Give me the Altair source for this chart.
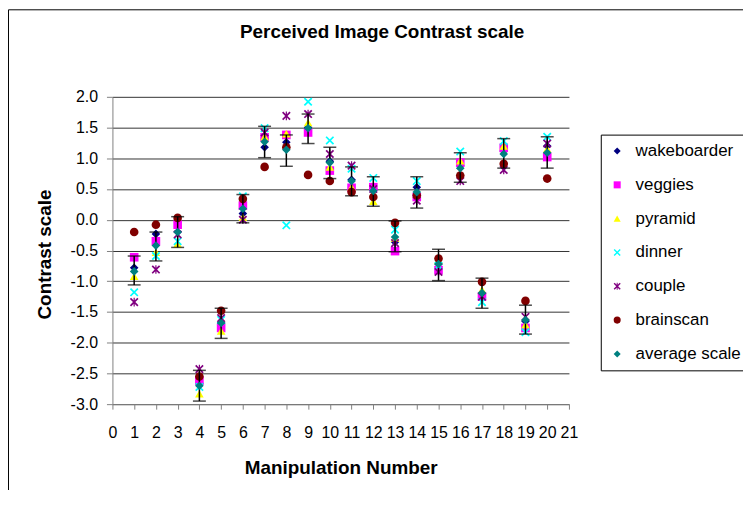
import altair as alt
import pandas as pd

# ---- data ----
manipulation = list(range(1, 21))

wakeboarder = [-0.78, -0.23, -0.20, -2.66, -1.68, 0.10, 1.18, 1.26, 1.50, 0.95,
               0.65, 0.50, -0.36, 0.53, -0.72, 0.88, -1.20, 1.12, -1.65, 1.20]
veggies = [-0.61, -0.35, -0.08, -2.62, -1.76, 0.23, 1.34, 1.38, 1.42, 0.80,
           0.52, 0.53, -0.51, 0.37, -0.82, 0.93, -1.25, 1.17, -1.76, 1.02]
pyramid = [-0.92, -0.53, -0.39, -2.83, -1.81, 0.04, 1.35, 1.40, 1.58, 0.86,
           0.53, 0.30, -0.30, 0.42, -0.66, 0.96, -1.14, 1.20, -1.71, 1.15]
dinner = [-1.18, -0.59, -0.35, -2.72, -1.63, 0.38, 1.49, -0.09, 1.92, 1.29,
          0.83, 0.68, -0.16, 0.63, -0.75, 1.11, -1.34, 1.28, -1.83, 1.35]
couple = [-1.34, -0.81, -0.24, -2.43, -1.60, 0.00, 1.42, 1.69, 1.72, 1.07,
          0.88, 0.50, -0.38, 0.31, -0.85, 0.63, -1.25, 0.81, -1.58, 1.24]
brainscan = [-0.20, -0.08, 0.03, -2.55, -1.48, 0.34, 0.86, 1.18, 0.73, 0.63,
             0.45, 0.37, -0.05, 0.40, -0.63, 0.72, -1.01, 0.91, -1.32, 0.67]
average_scale = [-0.84, -0.42, -0.20, -2.70, -1.68, 0.18, 1.27, 1.14, 1.49, 0.93,
                 0.63, 0.47, -0.28, 0.45, -0.72, 0.84, -1.19, 1.07, -1.63, 1.09]
err_high = [-0.59, -0.20, 0.05, -2.45, -1.44, 0.41, 1.52, 1.38, 1.72, 1.18,
            0.86, 0.70, -0.02, 0.70, -0.48, 1.09, -0.95, 1.32, -1.39, 1.35]
err_low = [-1.06, -0.67, -0.45, -2.95, -1.93, -0.05, 1.01, 0.87, 1.24, 0.67,
           0.39, 0.22, -0.52, 0.19, -0.99, 0.61, -1.44, 0.84, -1.86, 0.84]

series_names = ["wakeboarder", "veggies", "pyramid", "dinner", "couple",
                "brainscan", "average scale"]
series_colors = ["#000080", "#FF00FF", "#FFFF00", "#00FFFF", "#800080",
                 "#800000", "#008080"]
X_PATH = ("M-1,-0.72L-0.72,-1L0,-0.28L0.72,-1L1,-0.72L0.28,0L1,0.72L0.72,1"
          "L0,0.28L-0.72,1L-1,0.72L-0.28,0Z")
STAR_PATH = X_PATH + "M-0.14,-1L0.14,-1L0.14,1L-0.14,1Z"
series_shapes = ["diamond", "square", "triangle-up", X_PATH, STAR_PATH,
                 "circle", "diamond"]

y_ticks = [-3.0, -2.5, -2.0, -1.5, -1.0, -0.5, 0.0, 0.5, 1.0, 1.5, 2.0]
x_ticks = list(range(0, 22))

# ---- tables ----
rows = []
for name, vals in zip(series_names[:6],
                      [wakeboarder, veggies, pyramid, dinner, couple, brainscan]):
    for m, v in zip(manipulation, vals):
        rows.append({"manip": m, "value": v, "series": name})
pts = pd.DataFrame(rows)
avg = pd.DataFrame({"manip": manipulation, "value": average_scale,
                    "series": ["average scale"] * len(manipulation),
                    "hi": err_high, "lo": err_low})
frame = pd.DataFrame({"k": [0]})

FONT = "Liberation Sans"
X_TITLE = "Manipulation Number"
Y_TITLE = "Contrast scale"

x_scale = alt.Scale(domain=[0, 21], nice=False, zero=False)
y_scale = alt.Scale(domain=[-3, 2], nice=False, zero=False)

x_axis = alt.Axis(values=x_ticks, format="d", grid=False, tickSize=5,
                  labelPadding=16, labelOverlap=False, labelFlush=False,
                  labelFontSize=16, titleFontSize=19, titleFontWeight="bold",
                  titleBaseline="alphabetic", titleX=229.5, titleY=70,
                  domainColor="#808080", tickColor="#808080", title=X_TITLE)
y_axis = alt.Axis(values=y_ticks, grid=True, gridColor="#333333",
                  labelExpr="replace(format(datum.value, '.1f'), '\u2212', '-')",
                  tickSize=6, labelPadding=9, labelFontSize=16,
                  titleFontSize=19, titleFontWeight="bold",
                  titleBaseline="alphabetic", titleAngle=270,
                  titleX=-62.6, titleY=158, titleAlign="center",
                  domainColor="#808080", tickColor="#808080", title=Y_TITLE)


def xenc(field):
    return alt.X(field, scale=x_scale, axis=x_axis)


def yenc(field):
    return alt.Y(field, scale=y_scale, axis=y_axis)


legend = alt.Legend(title=None, orient="none", legendX=491, legendY=38,
                    strokeColor="black", fillColor="white", padding=8,
                    labelFont=FONT, labelFontSize=17, labelColor="black",
                    symbolSize=50, rowPadding=16, labelOffset=10)

color = alt.Color("series:N", scale=alt.Scale(domain=series_names,
                                              range=series_colors),
                  legend=legend)
shape = alt.Shape("series:N", scale=alt.Scale(domain=series_names,
                                              range=series_shapes),
                  legend=legend)

border = alt.Chart(frame).mark_rect(
    fillOpacity=0, stroke="black", strokeWidth=1, clip=False
).encode(x=alt.value(-104.5), x2=alt.value(700),
         y=alt.value(-87.5), y2=alt.value(480))

series_pts = alt.Chart(pts).mark_point(filled=True, size=75, opacity=1).encode(
    x=xenc("manip:Q"), y=yenc("value:Q"), color=color, shape=shape)

rule = alt.Chart(avg).mark_rule(color="black", strokeWidth=1.5).encode(
    x=xenc("manip:Q"), y=yenc("hi:Q"), y2="lo:Q")
cap_hi = alt.Chart(avg).mark_tick(color="black", size=13, thickness=1.5,
                                  orient="horizontal").encode(
    x=xenc("manip:Q"), y=yenc("hi:Q"))
cap_lo = alt.Chart(avg).mark_tick(color="black", size=13, thickness=1.5,
                                  orient="horizontal").encode(
    x=xenc("manip:Q"), y=yenc("lo:Q"))

avg_pts = alt.Chart(avg).mark_point(filled=True, size=75, opacity=1).encode(
    x=xenc("manip:Q"), y=yenc("value:Q"), color=color, shape=shape)

chart = alt.layer(border, series_pts, rule, cap_hi, cap_lo, avg_pts).properties(
    width=459, height=309,
    title=alt.TitleParams(text="Perceived Image Contrast scale", font=FONT,
                          fontSize=19, fontWeight="bold", color="black",
                          anchor="middle", dx=41.7, offset=-48,
                          baseline="alphabetic"),
    autosize=alt.AutoSizeParams(type="none"),
    padding={"left": 105, "top": 88, "right": 175, "bottom": 85},
    background="white",
).configure_view(stroke=None).configure_axis(
    labelFont=FONT, titleFont=FONT, labelColor="black", titleColor="black"
)

chart.save("out.html", embed_options={"renderer": "svg", "actions": False})
